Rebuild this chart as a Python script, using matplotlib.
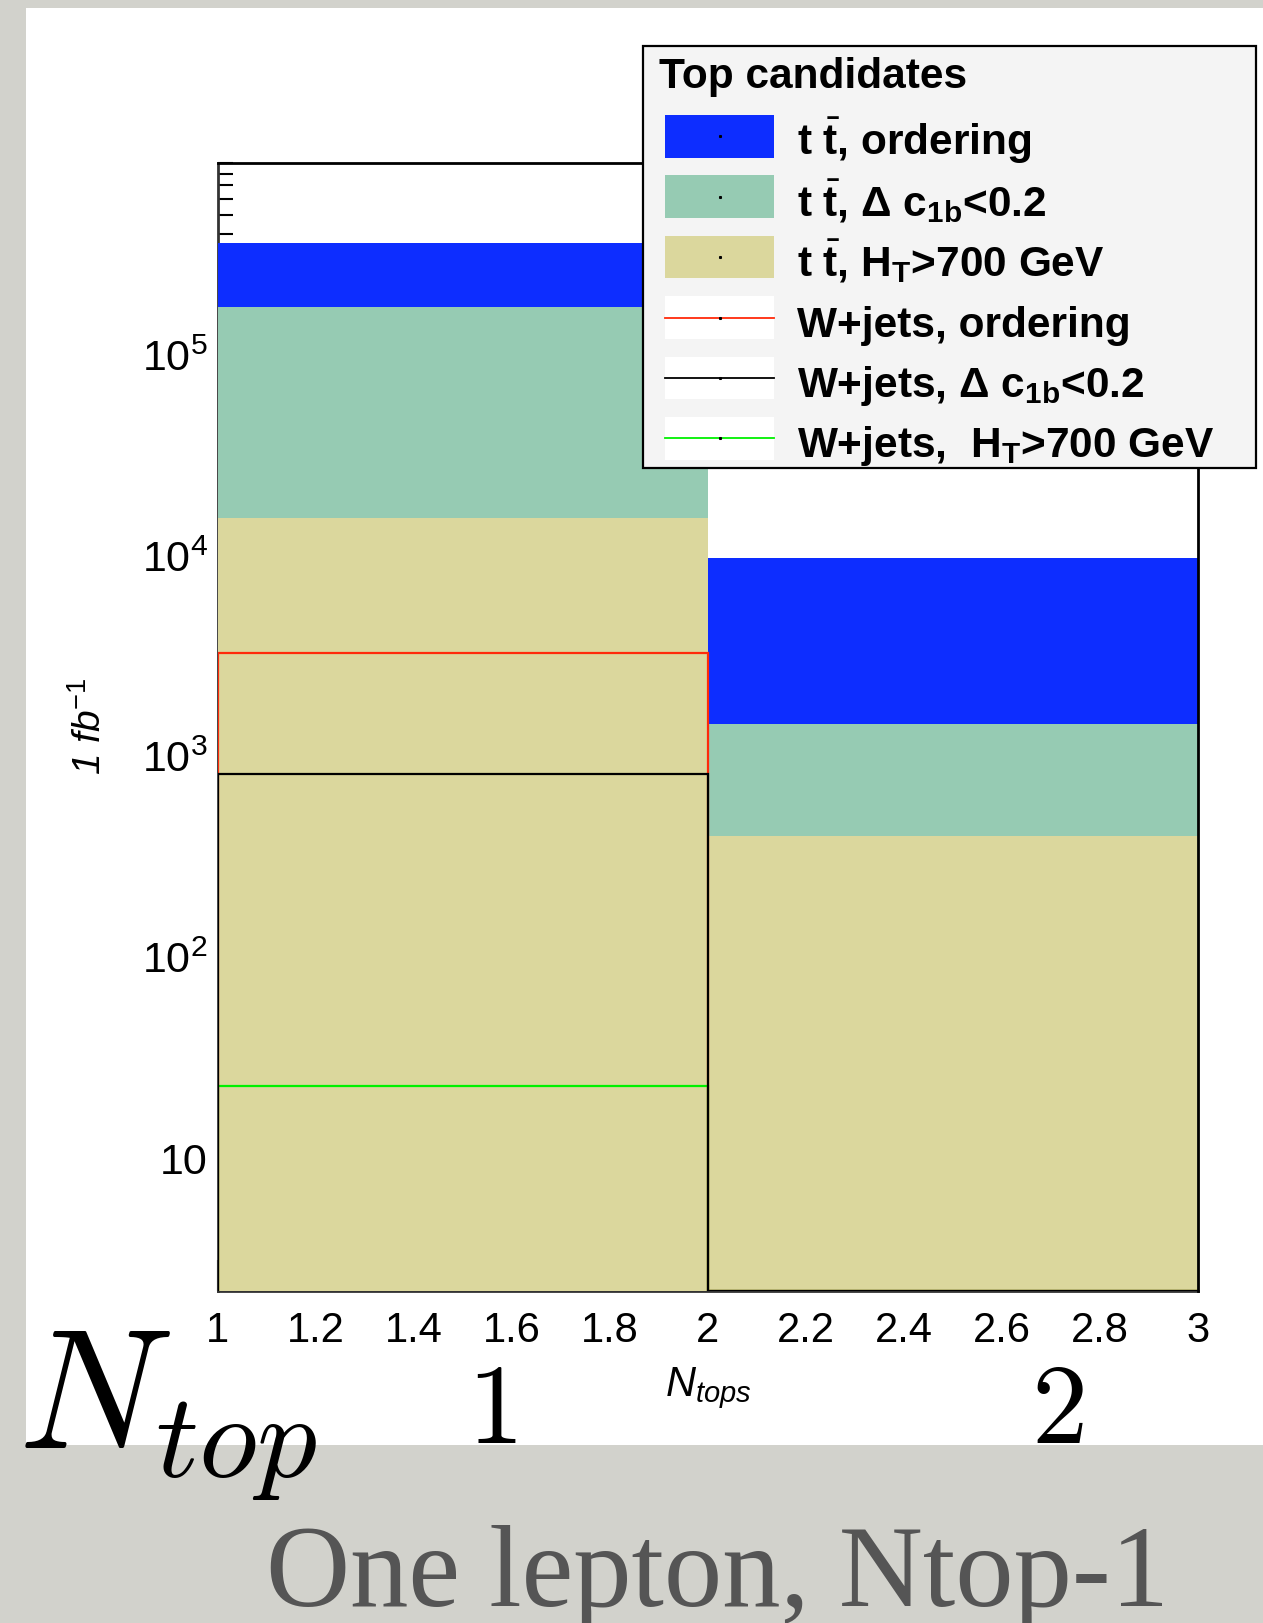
import matplotlib
matplotlib.use('Agg')
import matplotlib.pyplot as plt
import numpy as np
from matplotlib.patches import Rectangle
from matplotlib.lines import Line2D
from matplotlib.ticker import FixedLocator, LogLocator, NullFormatter

plt.rcParams['font.family'] = ['Liberation Sans', 'DejaVu Sans']
plt.rcParams['mathtext.fontset'] = 'custom'
plt.rcParams['mathtext.rm'] = 'Liberation Sans'
plt.rcParams['mathtext.it'] = 'Liberation Sans:italic'
plt.rcParams['mathtext.bf'] = 'Liberation Sans:bold'

# bin edges in N_tops and event counts per bin (1 fb^-1)
edges = [1, 2, 3]
tt_ordering = [3.6e5, 9.8e3]
tt_dc1b = [1.74e5, 1.46e3]
tt_ht700 = [1.54e4, 405]
wj_ordering = [3.3e3, 0]
wj_dc1b = [825, 0]
wj_ht700 = [23, 0]

labels = [r't $\bar{\mathbf{t}}$, ordering',
          r't $\bar{\mathbf{t}}$, Δ c$_{\mathbf{1b}}$<0.2',
          r't $\bar{\mathbf{t}}$, H$_{\mathbf{T}}$>700 GeV',
          'W+jets, ordering',
          r'W+jets, Δ c$_{\mathbf{1b}}$<0.2',
          r'W+jets,  H$_{\mathbf{T}}$>700 GeV']

x_ticks = [1, 1.2, 1.4, 1.6, 1.8, 2, 2.2, 2.4, 2.6, 2.8, 3]
x_tick_labels = ['1', '1.2', '1.4', '1.6', '1.8', '2', '2.2', '2.4', '2.6', '2.8', '3']
y_ticks = [10, 1e2, 1e3, 1e4, 1e5]
y_tick_labels = ['10', r'$\mathregular{10^{2}}$', r'$\mathregular{10^{3}}$',
                 r'$\mathregular{10^{4}}$', r'$\mathregular{10^{5}}$']

c_blue = '#0d2dff'
c_teal = '#96cbb3'
c_khaki = '#dbd79d'
c_red = '#ff2a0a'
c_black = '#000000'
c_green = '#00f000'

W, H = 1263, 1623
ymin, ymax = 2.2, 9.05e5


def fx(px):
    return px / W


def fy(py):
    return 1 - py / H


fig = plt.figure(figsize=(W / 100, H / 100), dpi=100)
fig.patch.set_facecolor('#d2d2cc')
fig.add_artist(Rectangle((fx(26), fy(1445)), 1 - fx(26), (1445 - 8) / H,
                         transform=fig.transFigure, facecolor='white',
                         edgecolor='none', zorder=-1))

ax = fig.add_axes([fx(217.5), fy(1290.5), fx(1197.5) - fx(217.5), (1290.5 - 163) / H])
ax.set_yscale('log')
ax.set_xlim(1, 3)
ax.set_ylim(ymin, ymax)
ax.set_axisbelow(True)

# filled ttbar histograms, overlaid from the bottom of the axis
for vals, col in [(tt_ordering, c_blue), (tt_dc1b, c_teal), (tt_ht700, c_khaki)]:
    ax.stairs(vals, edges, baseline=ymin, fill=True, color=col, zorder=1)

# W+jets outlines, empty bins sit on the axis floor
for vals, col in [(wj_ht700, c_green), (wj_ordering, c_red), (wj_dc1b, c_black)]:
    ax.stairs(np.maximum(vals, ymin), edges, baseline=ymin, color=col, lw=1.6, zorder=2)

ax.xaxis.set_major_locator(FixedLocator(x_ticks))
ax.set_xticklabels(x_tick_labels)
ax.yaxis.set_major_locator(FixedLocator(y_ticks))
ax.set_yticklabels(y_tick_labels)
ax.yaxis.set_minor_locator(LogLocator(base=10, subs=np.arange(2, 10)))
ax.yaxis.set_minor_formatter(NullFormatter())
ax.xaxis.set_minor_locator(FixedLocator(np.arange(1, 3.001, 0.05)))
ax.tick_params(axis='both', which='both', direction='in', width=1.5, colors='black')
ax.tick_params(axis='y', which='major', length=22, pad=7, labelsize=31)
ax.tick_params(axis='y', which='minor', length=11)
ax.tick_params(axis='x', which='major', length=22, pad=15, labelsize=30)
ax.tick_params(axis='x', which='minor', length=11)

for side in ['left', 'bottom']:
    ax.spines[side].set_linewidth(2)
    ax.spines[side].set_color('#333333')
    ax.spines[side].set_zorder(0.8)
for side in ['top', 'right']:
    ax.spines[side].set_linewidth(2)
    ax.spines[side].set_zorder(3)

fig.text(fx(90), fy(727), r'1 fb$^{-1}$', rotation=90, style='italic', fontsize=28,
         ha='center', va='center')
fig.text(fx(708), fy(1396), r'N$_{tops}$', style='italic', fontsize=30,
         ha='center', va='baseline')

# legend box
lx0, lx1, ly0, ly1 = 643, 1256, 45.5, 468
fig.add_artist(Rectangle((fx(lx0), fy(ly1)), fx(lx1) - fx(lx0), (ly1 - ly0) / H,
                         transform=fig.transFigure, facecolor='#f4f4f4',
                         edgecolor='black', lw=1.6, zorder=5))
fig.text(fx(659), fy(88), 'Top candidates', fontsize=30.5, fontweight='bold',
         ha='left', va='baseline', zorder=6)

sw_x0, sw_x1, sw_h = 665, 774, 42.7
fills = [c_blue, c_teal, c_khaki, None, None, None]
lines = [None, None, None, c_red, c_black, c_green]
for i, lab in enumerate(labels):
    yc = 136.3 + i * 60.4
    face = fills[i] if fills[i] else 'white'
    fig.add_artist(Rectangle((fx(sw_x0), fy(yc + sw_h / 2)), fx(sw_x1) - fx(sw_x0), sw_h / H,
                             transform=fig.transFigure, facecolor=face,
                             edgecolor='none', zorder=6))
    if lines[i]:
        fig.add_artist(Line2D([fx(sw_x0), fx(sw_x1)], [fy(yc), fy(yc)],
                              transform=fig.transFigure, color=lines[i], lw=1.3, zorder=7))
    fig.add_artist(Line2D([fx((sw_x0 + sw_x1) / 2)], [fy(yc)], transform=fig.transFigure,
                          marker='s', markersize=1.2, color='black', lw=0, zorder=8))
    fig.text(fx(797), fy(yc + 19), lab, fontsize=30.5, fontweight='bold',
             ha='left', va='baseline', zorder=7)

# slide annotations
fig.text(fx(18), fy(1448), r'$N_{top}$', math_fontfamily='cm', fontsize=123,
         ha='left', va='baseline')
fig.text(fx(492), fy(1443), r'$1$', math_fontfamily='cm', fontsize=81,
         ha='center', va='baseline')
fig.text(fx(1057), fy(1443), r'$2$', math_fontfamily='cm', fontsize=81,
         ha='center', va='baseline')
fig.text(fx(717), fy(1606), 'One lepton, Ntop-1', family='Liberation Serif',
         fontsize=84, color='#555555', ha='center', va='baseline')

fig.savefig('out.png', dpi=100)
